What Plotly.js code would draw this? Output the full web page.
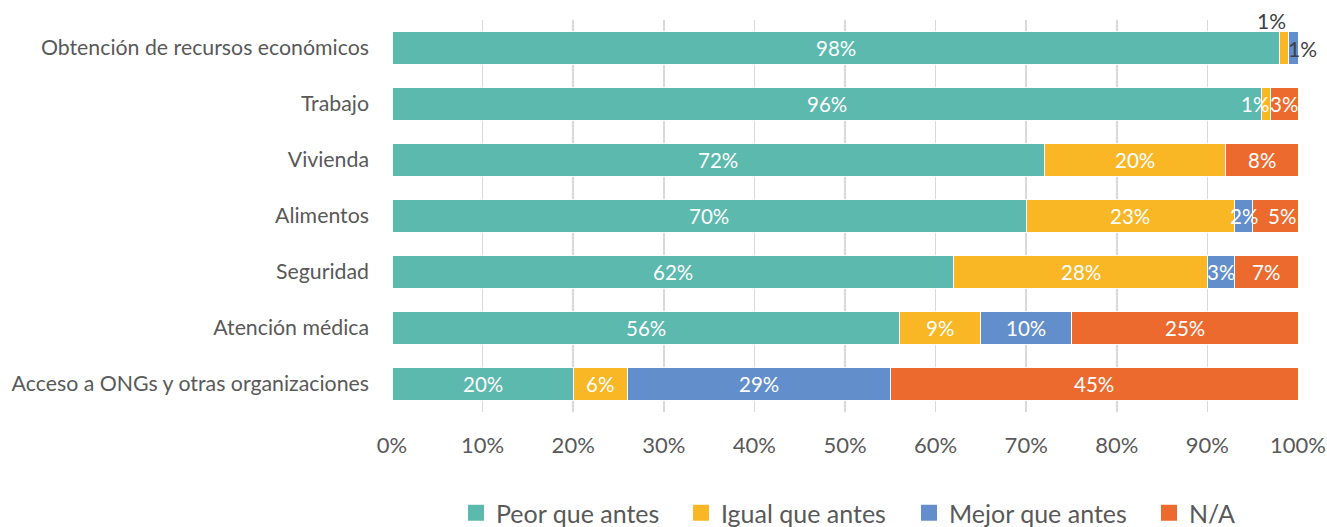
<!DOCTYPE html>
<html>
<head>
<meta charset="utf-8">
<script src="https://cdn.plot.ly/plotly-3.0.1.min.js"></script>
<style>html,body{margin:0;padding:0;background:#fff;}#chart{width:1327px;height:527px;}</style>
</head>
<body>
<div id="chart"></div>
<script>
const categories = [
  "Obtención de recursos económicos",
  "Trabajo",
  "Vivienda",
  "Alimentos",
  "Seguridad",
  "Atención médica",
  "Acceso a ONGs y otras organizaciones"
];
const seriesNames = ["Peor que antes", "Igual que antes", "Mejor que antes", "N/A"];
const peor   = [98, 96, 72, 70, 62, 56, 20];
const igual  = [1, 1, 20, 23, 28, 9, 6];
const mejor  = [1, 0, 0, 2, 3, 10, 29];
const na     = [0, 3, 8, 5, 7, 25, 45];
const xTicks = [0, 10, 20, 30, 40, 50, 60, 70, 80, 90, 100];

const colors = ["#5CB9AE", "#F9B726", "#628FCB", "#ED6A2F"];
const series = [peor, igual, mejor, na];
const FONT = "Lato, 'Open Sans', sans-serif";
const GRAY = "#595959";
const legendIds = ["legend", "legend2", "legend3", "legend4"];
const legendX = [456, 681, 909, 1149];

const traces = series.map((vals, i) => ({
  type: "bar",
  orientation: "h",
  name: seriesNames[i],
  y: categories,
  x: vals,
  showlegend: false,
  marker: {color: colors[i], line: {color: "#ffffff", width: 1}},
  hoverinfo: "x+y+name"
}));

// legend entries (square keys) — one legend per entry so spacing can match
seriesNames.forEach((nm, i) => {
  traces.push({
    type: "scatter",
    mode: "markers",
    name: nm,
    x: [null], y: [null],
    legend: legendIds[i],
    showlegend: true,
    marker: {symbol: "square", size: 16, color: colors[i]},
    hoverinfo: "skip"
  });
});

// Data labels as annotations, positioned through the data scale
const annotations = [];
categories.forEach((cat, ci) => {
  let start = 0;
  series.forEach((vals, si) => {
    const v = vals[ci];
    if (v > 0) {
      const center = start + v / 2;
      if (ci === 0 && si === 1) {
        annotations.push({x: center, y: cat, xref: "x", yref: "y", text: v + "%", showarrow: false,
          yshift: 28, xshift: -13, font: {family: FONT, size: 21, color: "#404040"}});
      } else if (ci === 0 && si === 2) {
        annotations.push({x: start, y: cat, xref: "x", yref: "y", text: v + "%", showarrow: false,
          xanchor: "left", xshift: -3, font: {family: FONT, size: 21, color: "#404040"}});
      } else {
        let xs = 0;
        if (ci === 1 && si === 1) xs = -11;
        if (ci === 3 && si === 3) xs = 7;
        annotations.push({x: center, y: cat, xref: "x", yref: "y", text: v + "%", showarrow: false,
          xshift: xs, font: {family: FONT, size: 20.5, color: "#ffffff"}});
      }
    }
    start += v;
  });
});

const layout = {
  width: 1327,
  height: 527,
  margin: {l: 392, r: 29, t: 20, b: 115},
  barmode: "stack",
  bargap: 0.41,
  paper_bgcolor: "#ffffff",
  plot_bgcolor: "#ffffff",
  font: {family: FONT, size: 21, color: GRAY},
  showlegend: true,
  xaxis: {
    range: [0, 100],
    tickvals: xTicks,
    ticktext: xTicks.map(t => t + "%"),
    showgrid: true,
    gridcolor: "#D9D9D9",
    gridwidth: 1.5,
    zeroline: false,
    showline: false,
    ticks: "",
    ticklabelstandoff: 18,
    tickfont: {family: FONT, size: 22, color: GRAY},
    fixedrange: true
  },
  yaxis: {
    type: "category",
    autorange: "reversed",
    showgrid: false,
    zeroline: false,
    showline: false,
    ticks: "",
    ticklabelstandoff: 22,
    tickfont: {family: FONT, size: 21.3, color: GRAY},
    fixedrange: true
  },
  annotations: annotations
};

legendIds.forEach((id, i) => {
  layout[id] = {
    orientation: "h",
    xref: "container", yref: "container",
    x: legendX[i] / 1327, xanchor: "left",
    y: (527 - 513) / 527, yanchor: "middle",
    font: {family: FONT, size: 25, color: GRAY},
    bgcolor: "rgba(0,0,0,0)"
  };
});

Plotly.newPlot("chart", traces, layout, {displayModeBar: false, staticPlot: true});
</script>
</body>
</html>
